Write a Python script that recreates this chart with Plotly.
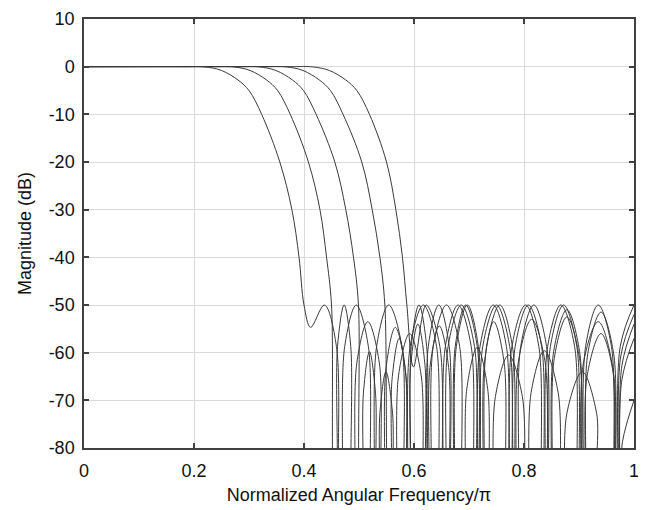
import plotly.graph_objects as go

# ------------- Data -------------
# five lowpass responses, normalized frequency (x) vs magnitude in dB (y)
# stopband nulls go far below the axis, so they are written as -90

FREQ_A = [0, 0.18, 0.22, 0.25, 0.28, 0.30, 0.323, 0.356, 0.378, 0.391, 0.400, 0.412, 0.437, 0.459, 0.465,
          0.467, 0.474, 0.495, 0.517, 0.523,
          0.525, 0.532, 0.554, 0.578, 0.584,
          0.586, 0.593, 0.617, 0.641, 0.648,
          0.650, 0.657, 0.680, 0.704, 0.711,
          0.713, 0.720, 0.744, 0.768, 0.775,
          0.777, 0.784, 0.808, 0.832, 0.839,
          0.841, 0.848, 0.872, 0.896, 0.903,
          0.905, 0.912, 0.935, 0.959, 0.966,
          0.968, 0.975, 1.0]
MAG_A = [0, 0, -0.05, -0.8, -2.8, -5, -10, -20, -30, -40, -50, -54.7, -50, -58.7, -90,
         -90, -58.7, -50, -58.7, -90,
         -90, -58.7, -50, -58.7, -90,
         -90, -58.7, -50, -58.7, -90,
         -90, -58.7, -50, -58.7, -90,
         -90, -58.7, -50, -58.7, -90,
         -90, -58.7, -50, -58.7, -90,
         -90, -58.7, -50, -58.7, -90,
         -90, -58.7, -50, -58.7, -90,
         -90, -58.7, -50]

FREQ_B = [0, 0.232, 0.272, 0.302, 0.332, 0.352, 0.375, 0.408, 0.429, 0.441, 0.450, 0.456,
          0.458, 0.461, 0.473, 0.485, 0.488,
          0.490, 0.496, 0.516, 0.537, 0.542,
          0.544, 0.549, 0.566, 0.584, 0.589,
          0.591, 0.595, 0.609, 0.623, 0.627,
          0.629, 0.635, 0.659, 0.683, 0.689,
          0.691, 0.696, 0.715, 0.734, 0.739,
          0.741, 0.748, 0.772, 0.797, 0.804,
          0.806, 0.813, 0.837, 0.862, 0.869,
          0.871, 0.878, 0.906, 0.932, 0.939,
          0.973, 0.979, 1.0]
MAG_B = [0, 0, -0.05, -0.8, -2.8, -5, -10, -20, -30, -40, -50, -90,
         -90, -58.7, -50, -58.7, -90,
         -90, -62.2, -53.5, -62.2, -90,
         -90, -63.4, -54.7, -63.4, -90,
         -90, -58.7, -50, -58.7, -90,
         -90, -58.7, -50, -58.7, -90,
         -90, -67.6, -58.9, -67.6, -90,
         -90, -69.2, -60.5, -69.2, -90,
         -90, -68.3, -59.6, -68.3, -90,
         -90, -72.7, -64, -72.7, -90,
         -90, -78.7, -70]

FREQ_C = [0, 0.279, 0.319, 0.349, 0.379, 0.399, 0.422, 0.456, 0.476, 0.490, 0.499, 0.503,
          0.505, 0.508, 0.519, 0.530, 0.533,
          0.535, 0.538, 0.549, 0.561, 0.564,
          0.566, 0.572, 0.592, 0.613, 0.619,
          0.621, 0.626, 0.645, 0.664, 0.669,
          0.671, 0.677, 0.697, 0.717, 0.723,
          0.725, 0.732, 0.756, 0.779, 0.786,
          0.788, 0.794, 0.818, 0.841, 0.847,
          0.849, 0.855, 0.878, 0.901, 0.907,
          0.909, 0.915, 0.940, 0.963, 0.969,
          0.971, 0.978, 1.0]
MAG_C = [0, 0, -0.05, -0.8, -2.8, -5, -10, -20, -30, -40, -50, -90,
         -90, -68.5, -59.8, -68.5, -90,
         -90, -72.7, -64, -72.7, -90,
         -90, -64.7, -56, -64.7, -90,
         -90, -58.7, -50, -58.7, -90,
         -90, -58.7, -50, -58.7, -90,
         -90, -58.7, -50, -58.7, -90,
         -90, -58.7, -50, -58.7, -90,
         -90, -61.2, -52.5, -61.2, -90,
         -90, -64.7, -56, -64.7, -90,
         -90, -65.7, -57]

FREQ_D = [0, 0.328, 0.368, 0.398, 0.428, 0.448, 0.471, 0.505, 0.524, 0.538, 0.547, 0.555,
          0.557, 0.560, 0.573, 0.586, 0.589,
          0.591, 0.594, 0.607, 0.620, 0.623,
          0.625, 0.629, 0.646, 0.663, 0.667,
          0.669, 0.675, 0.694, 0.715, 0.721,
          0.723, 0.728, 0.745, 0.764, 0.769,
          0.771, 0.778, 0.803, 0.827, 0.834,
          0.836, 0.843, 0.867, 0.892, 0.899,
          0.901, 0.908, 0.935, 0.960, 0.967,
          0.969, 0.976, 1.0]
MAG_D = [0, 0, -0.05, -0.8, -2.8, -5, -10, -20, -30, -40, -50, -90,
         -90, -65.7, -57, -65.7, -90,
         -90, -62.7, -54, -62.7, -90,
         -90, -63.1, -54.4, -63.1, -90,
         -90, -58.7, -50, -58.7, -90,
         -90, -62.2, -53.5, -62.2, -90,
         -90, -58.7, -50, -58.7, -90,
         -90, -58.7, -50, -58.7, -90,
         -90, -62.2, -53.5, -62.2, -90,
         -90, -60.7, -52]

FREQ_E = [0, 0.376, 0.416, 0.446, 0.476, 0.496, 0.519, 0.550, 0.567, 0.579, 0.587, 0.599, 0.622, 0.647, 0.654,
          0.656, 0.662, 0.686, 0.710, 0.716,
          0.718, 0.725, 0.750, 0.774, 0.781,
          0.783, 0.790, 0.814, 0.838, 0.845,
          0.847, 0.854, 0.878, 0.901, 0.908,
          0.910, 0.916, 0.940, 0.963, 0.969,
          0.971, 0.978, 1.0]
MAG_E = [0, 0, -0.05, -0.8, -2.8, -5, -10, -20, -30, -40, -50, -63, -50, -58.7, -90,
         -90, -58.7, -50, -58.7, -90,
         -90, -58.7, -50, -58.7, -90,
         -90, -61.7, -53, -61.7, -90,
         -90, -59.7, -51, -59.7, -90,
         -90, -60.2, -51.5, -60.2, -90,
         -90, -62.7, -54]

CURVES = [(FREQ_A, MAG_A), (FREQ_B, MAG_B), (FREQ_C, MAG_C), (FREQ_D, MAG_D), (FREQ_E, MAG_E)]

X_TICKS = [0, 0.2, 0.4, 0.6, 0.8, 1]
X_TICK_LABELS = ["0", "0.2", "0.4", "0.6", "0.8", "1"]
Y_TICKS = [10, 0, -10, -20, -30, -40, -50, -60, -70, -80]
Y_TICK_LABELS = ["10", "0", "-10", "-20", "-30", "-40", "-50", "-60", "-70", "-80"]

FONT = "Arial, Liberation Sans, sans-serif"


# ------------- Figure -------------

fig = go.Figure()
for freq, mag in CURVES:
    fig.add_trace(go.Scatter(
        x=freq, y=mag, mode="lines",
        line=dict(color="#3a3a3a", width=1, shape="spline", smoothing=1, simplify=False),
        showlegend=False, hoverinfo="skip",
    ))

axis_style = dict(
    showline=True, linecolor="#404040", linewidth=1.5, mirror="ticks",
    ticks="inside", ticklen=5, tickcolor="#404040", tickwidth=1.5,
    showgrid=True, gridcolor="#dadada", gridwidth=1,
    zeroline=False, automargin=False, ticklabeloverflow="allow",
    tickfont=dict(family=FONT, size=18, color="#111"),
)

fig.update_xaxes(
    range=[0, 1], tickvals=X_TICKS, ticktext=X_TICK_LABELS, ticklabelstandoff=6,
    title=dict(text="Normalized Angular Frequency/π", standoff=8,
               font=dict(family=FONT, size=18, color="#111")),
    **axis_style,
)
fig.update_yaxes(
    range=[-80, 10], tickvals=Y_TICKS, ticktext=Y_TICK_LABELS, ticklabelstandoff=4,
    title=dict(text="Magnitude (dB)", standoff=12,
               font=dict(family=FONT, size=18, color="#111")),
    **axis_style,
)

# the page puts the figure 8 px in from the top-left corner
fig.update_layout(
    width=638, height=502,
    margin=dict(l=76, r=12, t=11, b=62),
    paper_bgcolor="white", plot_bgcolor="white",
)

fig.write_html("out.html")
